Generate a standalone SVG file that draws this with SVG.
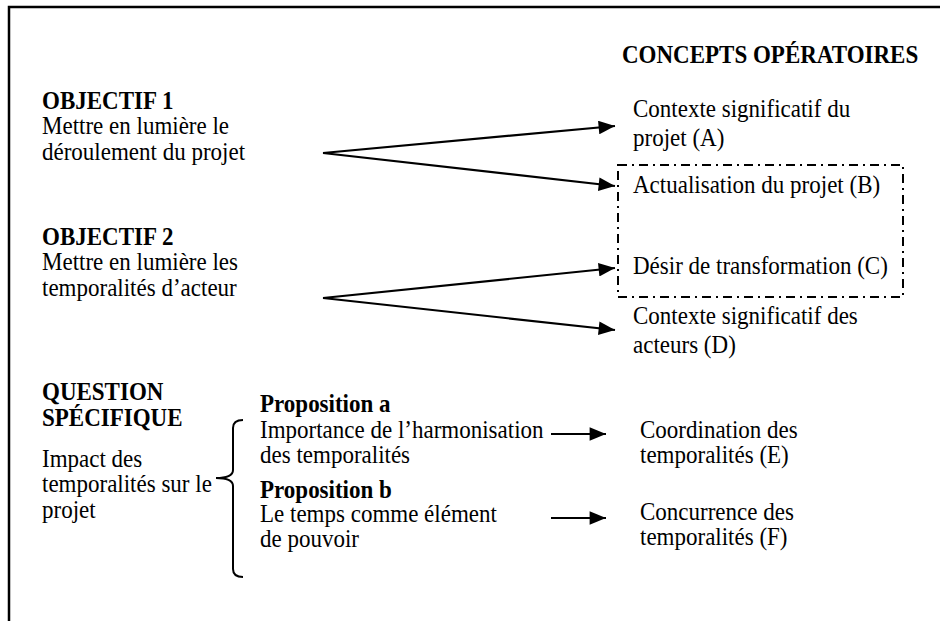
<svg xmlns="http://www.w3.org/2000/svg" width="940" height="621" viewBox="0 0 940 621">
  <defs>
    <marker id="arrow" viewBox="0 0 12 10" refX="12" refY="5" markerWidth="8" markerHeight="6.2" markerUnits="strokeWidth" orient="auto">
      <path d="M0,0 L12,5 L0,10 Z" fill="#000"/>
    </marker>
    <style>
      text { font-family: "Liberation Serif", "Times New Roman", serif; font-size: 23px; fill: #000; }
      .b { font-weight: bold; }
      .frame { fill: none; stroke: #000; stroke-width: 2.5; }
      .link { fill: none; stroke: #000; stroke-width: 2.2; marker-end: url(#arrow); }
      .group { fill: none; stroke: #000; stroke-width: 2; stroke-dasharray: 9 5 2 5; }
      .brace { fill: none; stroke: #000; stroke-width: 2; }
    </style>
  </defs>
  <rect width="940" height="621" fill="#fff"/>
  <path class="frame" d="M9,621 V7 H940"/>

  <g id="header">
    <text class="b" transform="translate(622,63) scale(1,1.05)">CONCEPTS OPÉRATOIRES</text>
  </g>

  <g id="objectif1">
    <text transform="translate(42,109) scale(1,1.05)"><tspan class="b" x="0" y="0">OBJECTIF 1</tspan><tspan x="0" dy="24.1">Mettre en lumière le</tspan><tspan x="0" dy="24.1">déroulement du projet</tspan></text>
  </g>

  <g id="objectif2">
    <text transform="translate(42,245) scale(1,1.05)"><tspan class="b" x="0" y="0">OBJECTIF 2</tspan><tspan x="0" dy="24.1">Mettre en lumière les</tspan><tspan x="0" dy="24.1">temporalités d’acteur</tspan></text>
  </g>

  <g id="question">
    <text class="b" transform="translate(42,400) scale(1,1.05)"><tspan x="0" y="0">QUESTION</tspan><tspan x="0" dy="24.7">SPÉCIFIQUE</tspan></text>
    <text transform="translate(42,467) scale(1,1.05)"><tspan x="0" y="0">Impact des</tspan><tspan x="0" dy="24.1">temporalités sur le</tspan><tspan x="0" dy="24.1">projet</tspan></text>
  </g>

  <g id="brace">
    <path class="brace" d="M243,420 Q233,420 233,428 V470 Q233,478 216,478 Q233,478 233,486 V569 Q233,577 243,577"/>
  </g>

  <g id="propositionA">
    <text transform="translate(260,412) scale(1,1.05)"><tspan class="b" x="0" y="0">Proposition a</tspan><tspan x="0" dy="24.5">Importance de l’harmonisation</tspan><tspan x="0" dy="24.1">des temporalités</tspan></text>
  </g>

  <g id="propositionB">
    <text transform="translate(260,498) scale(1,1.05)"><tspan class="b" x="0" y="0">Proposition b</tspan><tspan x="0" dy="22.9">Le temps comme élément</tspan><tspan x="0" dy="24.1">de pouvoir</tspan></text>
  </g>

  <g id="conceptA">
    <text transform="translate(633,117) scale(1,1.05)"><tspan x="0" y="0">Contexte significatif du</tspan><tspan x="0" dy="27.2">projet (A)</tspan></text>
  </g>

  <g id="groupBC">
    <rect class="group" x="618" y="165" width="285" height="132"/>
  </g>

  <g id="conceptB">
    <text transform="translate(633,193) scale(1,1.05)">Actualisation du projet (B)</text>
  </g>

  <g id="conceptC">
    <text transform="translate(633,274) scale(1,1.05)">Désir de transformation (C)</text>
  </g>

  <g id="conceptD">
    <text transform="translate(633,324) scale(1,1.05)"><tspan x="0" y="0">Contexte significatif des</tspan><tspan x="0" dy="27.2">acteurs (D)</tspan></text>
  </g>

  <g id="conceptE">
    <text transform="translate(640,438) scale(1,1.05)"><tspan x="0" y="0">Coordination des</tspan><tspan x="0" dy="24.1">temporalités (E)</tspan></text>
  </g>

  <g id="conceptF">
    <text transform="translate(640,520) scale(1,1.05)"><tspan x="0" y="0">Concurrence des</tspan><tspan x="0" dy="24.1">temporalités (F)</tspan></text>
  </g>

  <g id="connectors">
    <path class="link" d="M323,153 L615,126"/>
    <path class="link" d="M323,153 L615,186"/>
    <path class="link" d="M323,298 L615,268"/>
    <path class="link" d="M323,298 L615,330"/>
    <path class="link" d="M551,434 L606,434"/>
    <path class="link" d="M551,518 L606,518"/>
  </g>
</svg>
